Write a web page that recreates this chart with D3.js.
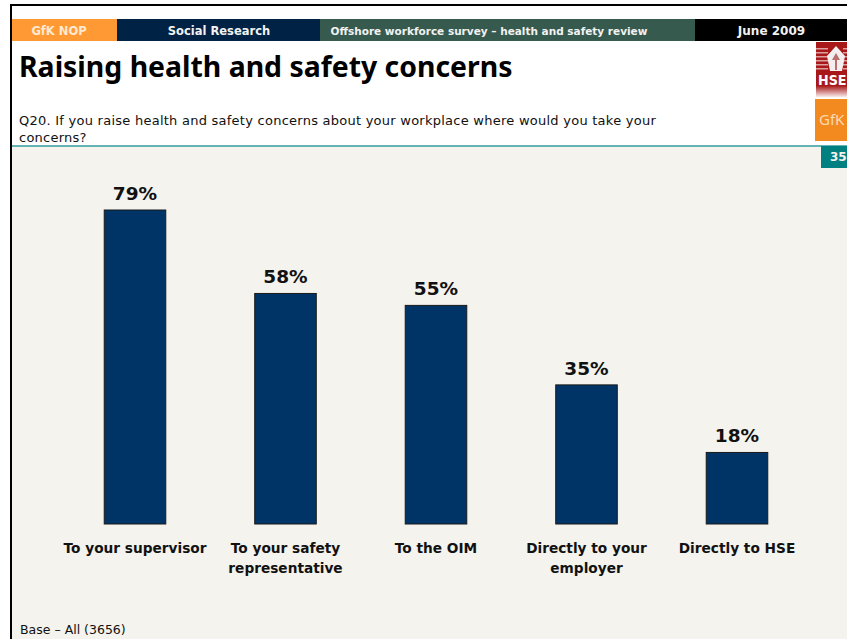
<!DOCTYPE html>
<html>
<head>
<meta charset="utf-8">
<script src="https://cdn.jsdelivr.net/npm/d3@7"></script>
<style>
  html, body { margin: 0; padding: 0; background: #fff; }
  svg { display: block; }
  text { font-family: "DejaVu Sans", sans-serif; }
</style>
</head>
<body>
<svg id="slide" width="847" height="639"></svg>
<script>
// Survey results
const categories = ["To your supervisor", "To your safety representative", "To the OIM", "Directly to your employer", "Directly to HSE"];
const categoryLines = [["To your supervisor"], ["To your safety", "representative"], ["To the OIM"], ["Directly to your", "employer"], ["Directly to HSE"]];
const percentages = [79, 58, 55, 35, 18];

// Header strip
const headerCells = [
  { x0: 12, x1: 117, fill: "#ff9933", label: "GfK NOP", cx: 59, size: 11.5 },
  { x0: 117, x1: 320, fill: "#002244", label: "Social Research", cx: 219, size: 11.5 },
  { x0: 320, x1: 695, fill: "#365a4e", label: "Offshore workforce survey – health and safety review", cx: 489, size: 10.5 },
  { x0: 695, x1: 847, fill: "#000000", label: "June 2009", cx: 771.5, size: 12 }
];

const svg = d3.select("#slide");

const fade = svg.append("defs").append("linearGradient")
  .attr("id", "hseFade").attr("x1", 0).attr("y1", 0).attr("x2", 0).attr("y2", 1);
fade.append("stop").attr("offset", "0.78").attr("stop-color", "#a81818");
fade.append("stop").attr("offset", "1").attr("stop-color", "#ffffff");

// Page frame and panel backgrounds
svg.append("rect").attr("x", 0).attr("y", 0).attr("width", 847).attr("height", 639).attr("fill", "#fff");
svg.append("rect").attr("x", 12).attr("y", 147).attr("width", 835).attr("height", 492).attr("fill", "#f4f3ee");
svg.append("rect").attr("x", 10).attr("y", 4).attr("width", 837).attr("height", 2).attr("fill", "#000");
svg.append("rect").attr("x", 10).attr("y", 4).attr("width", 2).attr("height", 635).attr("fill", "#000");
svg.append("rect").attr("x", 12).attr("y", 145).attr("width", 835).attr("height", 2).attr("fill", "#66b3b3");

const head = svg.append("g").selectAll("g").data(headerCells).join("g");
head.append("rect")
  .attr("x", d => d.x0).attr("y", 19)
  .attr("width", d => d.x1 - d.x0).attr("height", 22)
  .attr("fill", d => d.fill);
head.append("text")
  .attr("x", d => d.cx).attr("y", 34.5)
  .attr("text-anchor", "middle")
  .attr("font-size", d => d.size).attr("font-weight", "bold")
  .attr("fill", (d, i) => i === 0 ? "#ffe9d0" : "#f2f2f2")
  .text(d => d.label);

// Title and question
svg.append("text").attr("x", 19).attr("y", 77)
  .attr("font-size", 28.4).attr("font-weight", "bold").attr("fill", "#000")
  .style("font-family", "'Noto Sans', sans-serif")
  .text("Raising health and safety concerns");
svg.append("text").attr("x", 19).attr("y", 125)
  .attr("font-size", 13).attr("letter-spacing", 0.25).attr("fill", "#111")
  .text("Q20. If you raise health and safety concerns about your workplace where would you take your");
svg.append("text").attr("x", 19).attr("y", 141.5)
  .attr("font-size", 13).attr("letter-spacing", 0.25).attr("fill", "#111")
  .text("concerns?");

// HSE badge
const hse = svg.append("g");
hse.append("rect").attr("x", 816).attr("y", 42).attr("width", 31).attr("height", 56).attr("fill", "url(#hseFade)");
[48, 52, 56, 60, 64, 68].forEach(y => {
  hse.append("rect").attr("x", 816).attr("y", y).attr("width", 12).attr("height", 1.5).attr("fill", "#dca0a0");
  hse.append("rect").attr("x", 843).attr("y", y).attr("width", 4).attr("height", 1.5).attr("fill", "#dca0a0");
});
hse.append("path").attr("d", "M836 46 L845 56 L842 71 L830 71 L827 56 Z").attr("fill", "#f5eeee");
hse.append("path").attr("d", "M836 53 L840 60 L837 60 L837 70 L835 70 L835 60 L832 60 Z").attr("fill", "#b87070");
hse.append("text").attr("x", 818).attr("y", 85)
  .attr("font-size", 13.5).attr("font-weight", "bold").attr("fill", "#fff")
  .attr("textLength", 28.5).attr("lengthAdjust", "spacingAndGlyphs").text("HSE");

// GfK badge
svg.append("rect").attr("x", 815).attr("y", 99).attr("width", 32).attr("height", 42).attr("fill", "#f28a20");
svg.append("text").attr("x", 819).attr("y", 125)
  .attr("font-size", 15).attr("fill", "#fbd9b0")
  .style("font-family", "'Noto Sans', sans-serif")
  .text("GfK");

// Page number tab
svg.append("rect").attr("x", 821).attr("y", 146).attr("width", 26).attr("height", 22).attr("fill", "#008080");
svg.append("text").attr("x", 830).attr("y", 160.5)
  .attr("font-size", 12).attr("font-weight", "bold").attr("fill", "#f4f3ee").text("35");

// Bars
const x = d3.scaleBand().domain(categories).range([59.75, 812.25]).paddingInner(0.591).paddingOuter(0.2955);
const y = d3.scaleLinear().domain([0, 79]).range([524, 210]);

const bars = svg.append("g").selectAll("g").data(categories).join("g");
bars.append("rect")
  .attr("x", d => x(d))
  .attr("y", (d, i) => y(percentages[i]))
  .attr("width", x.bandwidth())
  .attr("height", (d, i) => y(0) - y(percentages[i]))
  .attr("fill", "#003366")
  .attr("stroke", "#1a1a1a")
  .attr("stroke-width", 1);
bars.append("text")
  .attr("x", d => x(d) + x.bandwidth() / 2)
  .attr("y", (d, i) => y(percentages[i]) - 10)
  .attr("text-anchor", "middle")
  .attr("font-size", 18.5).attr("font-weight", "bold").attr("fill", "#111")
  .text((d, i) => percentages[i] + "%");

// Category labels, wrapped onto one or two lines
bars.each(function (d, i) {
  d3.select(this).selectAll("text.cat").data(categoryLines[i]).join("text")
    .attr("class", "cat")
    .attr("x", x(d) + x.bandwidth() / 2)
    .attr("y", (t, j) => 553 + j * 20)
    .attr("text-anchor", "middle")
    .attr("font-size", 13.7).attr("font-weight", "bold").attr("fill", "#111")
    .text(t => t);
});

// Base note
svg.append("text").attr("x", 20).attr("y", 634)
  .attr("font-size", 12.5).attr("fill", "#111")
  .text("Base – All (3656)");
</script>
</body>
</html>
